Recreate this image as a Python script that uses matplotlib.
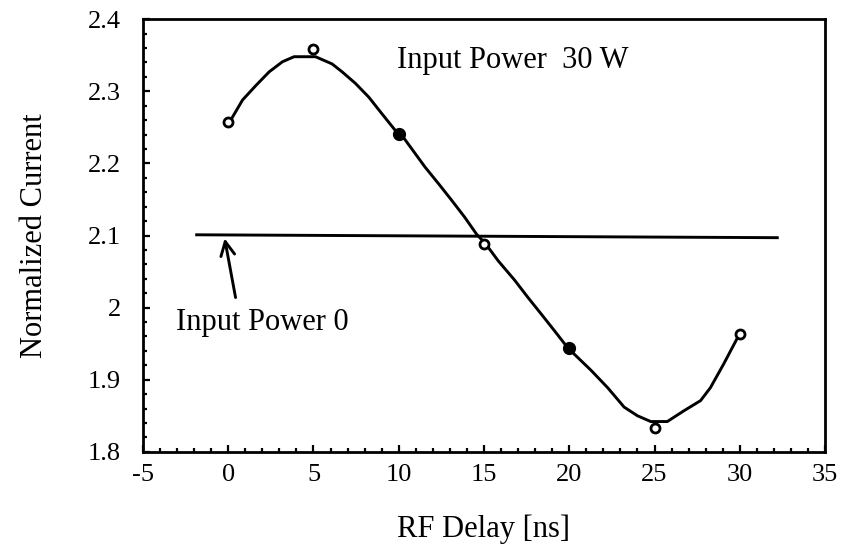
import numpy as np
import matplotlib
matplotlib.use("Agg")
import matplotlib.pyplot as plt
from matplotlib.ticker import MultipleLocator

plt.rcParams['font.family'] = ['Liberation Serif', 'DejaVu Serif']
plt.rcParams['axes.unicode_minus'] = False

# measured points
delay = [0, 5, 10, 15, 20, 25, 30]
current = [2.258, 2.358, 2.241, 2.088, 1.944, 1.833, 1.964]
filled = [False, False, True, False, True, False, False]

# hand-drawn smooth curve
curve_x = [0.12, 0.84, 1.62, 2.40, 3.18, 3.86, 5.12, 6.09, 6.68, 7.46, 8.24,
           9.01, 9.79, 10.12, 10.77, 11.54, 12.33, 13.10, 13.88, 14.56, 15.11,
           15.83, 16.80, 17.58, 18.36, 19.13, 19.92, 21.28, 22.25, 23.22,
           24.00, 24.78, 25.75, 26.73, 27.70, 28.28, 29.06, 29.84, 29.94]
curve_y = [2.259, 2.288, 2.308, 2.327, 2.341, 2.348, 2.348, 2.338, 2.327,
           2.311, 2.292, 2.269, 2.246, 2.241, 2.220, 2.195, 2.172, 2.149,
           2.125, 2.102, 2.088, 2.065, 2.038, 2.014, 1.991, 1.968, 1.944,
           1.913, 1.889, 1.862, 1.850, 1.842, 1.842, 1.857, 1.871, 1.889,
           1.922, 1.957, 1.963]

# zero input power level
ref_x = [-1.85, 32.2]
ref_y = [2.101, 2.097]

yticks = [1.8, 1.9, 2.0, 2.1, 2.2, 2.3, 2.4]
ytick_labels = ["1.8", "1.9", "2", "2.1", "2.2", "2.3", "2.4"]
xticks = [-5, 0, 5, 10, 15, 20, 25, 30, 35]

fig = plt.figure(figsize=(8.41, 5.49), dpi=100)
ax = fig.add_axes([0.170, 0.177, 0.811, 0.788])

ax.plot(curve_x, curve_y, color='black', lw=2.1, solid_capstyle='round',
        solid_joinstyle='round')
ax.plot(ref_x, ref_y, color='black', lw=2.1)
for x, y, f in zip(delay, current, filled):
    ax.plot(x, y, 'o', ms=7.5 if f else 6.5, mfc='black' if f else 'white',
            mec='black', mew=2, zorder=3)

ax.annotate("", xy=(-0.21, 2.096), xytext=(0.43, 2.014),
            arrowprops=dict(arrowstyle='->', color='black', lw=2.1,
                            mutation_scale=25, shrinkA=0, shrinkB=0))
ax.text(-3.07, 1.969, "Input Power 0", fontsize=22, va='baseline')
ax.text(9.89, 2.332, "Input Power  30 W", fontsize=22, va='baseline')

ax.set_xlim(-5, 35)
ax.set_ylim(1.8, 2.4)
ax.set_xticks(xticks)
ax.set_yticks(yticks)
ax.set_yticklabels(ytick_labels)
ax.xaxis.set_minor_locator(MultipleLocator(1))
ax.yaxis.set_minor_locator(MultipleLocator(0.02))
ax.tick_params(which='both', direction='in', top=False, right=False,
               labelsize=19, width=1.6)
ax.tick_params(which='major', length=5)
ax.tick_params(which='minor', length=3)
ax.tick_params(axis='y', pad=16)
ax.tick_params(axis='x', pad=9)
for s in ax.spines.values():
    s.set_linewidth(2)

ax.set_xlabel("RF Delay [ns]", fontsize=22, labelpad=20)
ax.set_ylabel("Normalized Current", fontsize=22, labelpad=28)

fig.savefig("out.png", dpi=100)
